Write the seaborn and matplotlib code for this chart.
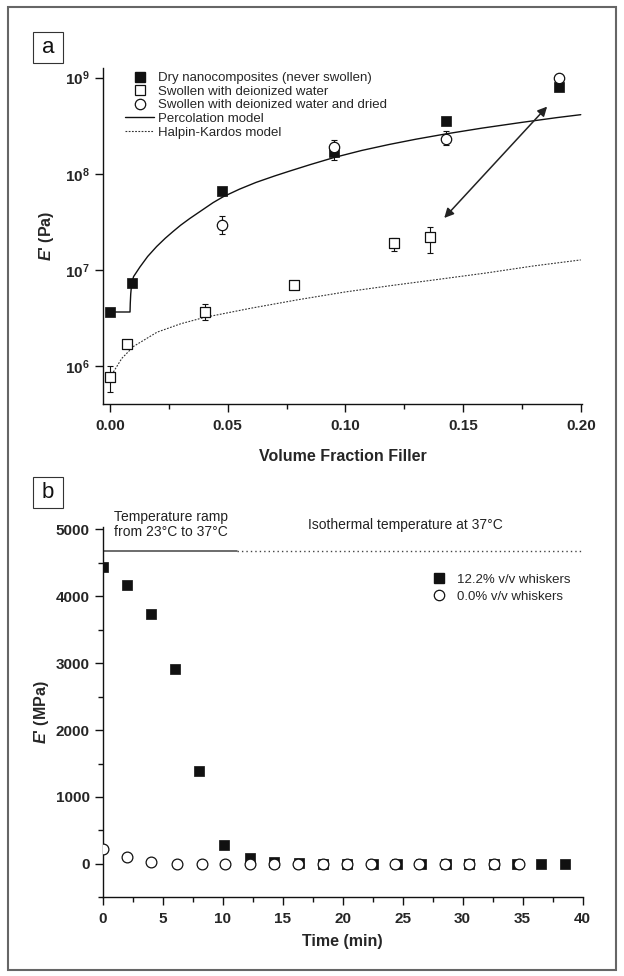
import numpy as np
import pandas as pd
import matplotlib
matplotlib.use("Agg")
import matplotlib.pyplot as plt
import seaborn as sns
from matplotlib.lines import Line2D
from matplotlib.patches import Rectangle
from matplotlib.ticker import MultipleLocator, FixedLocator, NullLocator

# panel a : E' vs volume fraction (log scale)
dry_x = [0.0, 0.0093, 0.0477, 0.0953, 0.1427, 0.1907]
dry_y = [3.65e6, 7.25e6, 6.55e7, 1.7e8, 3.5e8, 8.0e8]

swollen_x = [0.0, 0.0073, 0.0403, 0.078, 0.1205, 0.1359]
swollen_y = [7.7e5, 1.7e6, 3.68e6, 6.9e6, 1.9e7, 2.2e7]
swollen_lo = [5.4e5, 1.6e6, 3.0e6, 6.9e6, 1.58e7, 1.5e7]
swollen_hi = [1.0e6, 1.8e6, 4.4e6, 6.9e6, 2.14e7, 2.8e7]

dried_x = [0.0477, 0.0953, 0.1427, 0.1907]
dried_y = [2.94e7, 1.92e8, 2.32e8, 1.0e9]
dried_lo = [2.36e7, 1.4e8, 2.0e8, 9.0e8]
dried_hi = [3.6e7, 2.22e8, 2.76e8, 1.1e9]

# model curves (log10 of E')
perc_x = [0.0, 0.0085, 0.0086, 0.0088, 0.0092, 0.010, 0.0127, 0.016, 0.0198, 0.0235,
          0.0268, 0.030, 0.0339, 0.039, 0.0438, 0.048, 0.055, 0.062, 0.070, 0.0763,
          0.085, 0.0953, 0.107, 0.1186, 0.130, 0.1427, 0.158, 0.175, 0.190, 0.200]
perc_logy = [6.562, 6.562, 6.65, 6.75, 6.86, 6.93, 7.03, 7.14, 7.243, 7.33,
             7.40, 7.465, 7.535, 7.62, 7.70, 7.76, 7.84, 7.91, 7.978, 8.028,
             8.095, 8.17, 8.243, 8.305, 8.36, 8.415, 8.475, 8.535, 8.585, 8.615]

hk_x = [0.0007, 0.005, 0.01, 0.02, 0.03, 0.04, 0.06, 0.08, 0.10, 0.12, 0.14, 0.16, 0.18, 0.20]
hk_y = [8.1e5, 1.2e6, 1.6e6, 2.25e6, 2.75e6, 3.2e6, 4.0e6, 4.9e6, 5.9e6, 6.9e6,
        8.0e6, 9.3e6, 1.1e7, 1.27e7]

arrow_start = (0.142, 3.47e7)
arrow_end = (0.1857, 5.0e8)

# panel b : E' vs time
filled_t = [0.05, 2.0, 4.0, 6.0, 8.0, 10.1, 12.25, 14.25, 16.4, 18.4, 20.4, 22.5, 24.5,
            26.5, 28.6, 30.5, 32.6, 34.5, 36.5, 38.5]
filled_E = [4440, 4175, 3735, 2920, 1383, 285, 90, 35, 10, 5, 5, 3, 3, 2, 2, 2, 2, 2, 2, 2]
open_t = [0.0, 2.0, 4.0, 6.2, 8.3, 10.2, 12.3, 14.3, 16.3, 18.4, 20.4, 22.4, 24.4,
          26.4, 28.5, 30.5, 32.6, 34.7]
open_E = [220, 100, 25, 5, 2, 2, 1, 1, 1, 1, 1, 1, 1, 1, 1, 1, 1, 1]

ramp_end = 11.2
ramp_level = 4680

sns.set_theme(style="ticks")
plt.rcParams["font.family"] = ["Liberation Sans", "DejaVu Sans"]
plt.rcParams["mathtext.fontset"] = "custom"
plt.rcParams["mathtext.rm"] = "Liberation Sans"
plt.rcParams["mathtext.it"] = "Liberation Sans:italic"
plt.rcParams["mathtext.bf"] = "Liberation Sans:bold"
plt.rcParams["mathtext.bfit"] = "Liberation Sans:italic:bold"

fig = plt.figure(figsize=(6.24, 9.76), dpi=100)
ax1 = fig.add_axes([0.165, 0.5858, 0.7676, 0.3445])
ax2 = fig.add_axes([0.1646, 0.0806, 0.769, 0.3790])

# ---- panel a
perc_y = 10 ** np.array(perc_logy)
sns.lineplot(x=perc_x, y=perc_y, ax=ax1, color="#111111", lw=1.0, sort=False, estimator=None)
sns.lineplot(x=hk_x, y=hk_y, ax=ax1, color="#333333", lw=0.8, sort=False, estimator=None,
             linestyle=(0, (1.6, 1.3)))

sy = np.array(swollen_y)
ax1.errorbar(swollen_x, sy, yerr=[sy - np.array(swollen_lo), np.array(swollen_hi) - sy],
             fmt="none", ecolor="#111111", elinewidth=0.8, capsize=2.5, capthick=0.8, zorder=2)
dy = np.array(dried_y)
ax1.errorbar(dried_x, dy, yerr=[dy - np.array(dried_lo), np.array(dried_hi) - dy],
             fmt="none", ecolor="#111111", elinewidth=0.8, capsize=2.5, capthick=0.8, zorder=2)

sns.scatterplot(x=dry_x, y=dry_y, ax=ax1, marker="s", s=52, color="#111111",
                edgecolor="#111111", linewidth=0.5, zorder=3)
sns.scatterplot(x=swollen_x, y=swollen_y, ax=ax1, marker="s", s=45, facecolor="white",
                edgecolor="#111111", linewidth=0.9, zorder=4)
sns.scatterplot(x=dried_x, y=dried_y, ax=ax1, marker="o", s=56, facecolor="white",
                edgecolor="#111111", linewidth=0.9, zorder=5)

ax1.annotate("", xy=arrow_end, xytext=arrow_start,
             arrowprops=dict(arrowstyle="<|-|>", color="#222222", lw=1.1,
                             mutation_scale=14, shrinkA=0, shrinkB=0))

ax1.set_yscale("log")
ax1.set_xlim(-0.003, 0.2005)
ax1.set_ylim(4.0e5, 1.26e9)
ax1.xaxis.set_minor_locator(MultipleLocator(0.025))
ax1.set_xticks([0.0, 0.05, 0.10, 0.15, 0.20])
ax1.set_xticklabels(["0.00", "0.05", "0.10", "0.15", "0.20"])
ax1.yaxis.set_major_locator(FixedLocator([1e6, 1e7, 1e8, 1e9]))
ax1.yaxis.set_minor_locator(NullLocator())
ax1.set_yticklabels([r"$\mathbf{10^{6}}$", r"$\mathbf{10^{7}}$",
                     r"$\mathbf{10^{8}}$", r"$\mathbf{10^{9}}$"])

ax1.set_xlabel("Volume Fraction Filler", fontsize=11.5, fontweight="bold")
ax1.set_ylabel(r"$\mathbfit{E}$' (Pa)", fontsize=11.5, fontweight="bold")
ax1.xaxis.set_label_coords(0.5, -0.133)
ax1.yaxis.set_label_coords(-0.098, 0.5)

handles_a = [
    Line2D([], [], ls="none", marker="s", ms=7, mfc="#111111", mec="#111111"),
    Line2D([], [], ls="none", marker="s", ms=6.5, mfc="white", mec="#111111", mew=0.9),
    Line2D([], [], ls="none", marker="o", ms=7.5, mfc="white", mec="#111111", mew=0.9),
    Line2D([], [], color="#111111", lw=1.0),
    Line2D([], [], color="#333333", lw=0.8, ls=(0, (1.6, 1.3))),
]
labels_a = ["Dry nanocomposites (never swollen)", "Swollen with deionized water",
            "Swollen with deionized water and dried", "Percolation model",
            "Halpin-Kardos model"]
ax1.legend(handles_a, labels_a, loc="upper left", bbox_to_anchor=(0.046, 0.988),
           frameon=False, fontsize=9.5, handlelength=2.2, handletextpad=0.3,
           labelspacing=0.1, borderpad=0, borderaxespad=0)

# ---- panel b
ax2.plot([0, ramp_end], [ramp_level, ramp_level], color="#444444", lw=1.1)
ax2.plot([ramp_end, 40], [ramp_level, ramp_level], color="#444444", lw=1.0,
         linestyle=(0, (1, 2.2)))

sns.scatterplot(x=filled_t, y=filled_E, ax=ax2, marker="s", s=52, color="#111111",
                edgecolor="#111111", linewidth=0.5, zorder=3)
sns.scatterplot(x=open_t, y=open_E, ax=ax2, marker="o", s=60, facecolor="white",
                edgecolor="#111111", linewidth=0.9, zorder=4)

ax2.text(0.94, 5071, "Temperature ramp\nfrom 23\u00b0C to 37\u00b0C", fontsize=10,
         ha="left", va="center", linespacing=1.1, clip_on=False, color="#222222")
ax2.text(17.1, 5064, "Isothermal temperature at 37\u00b0C", fontsize=10,
         ha="left", va="center", clip_on=False, color="#222222")

ax2.set_xlim(0, 40)
ax2.set_ylim(-500, 5030)
ax2.xaxis.set_major_locator(MultipleLocator(5))
ax2.xaxis.set_minor_locator(MultipleLocator(2.5))
ax2.yaxis.set_major_locator(MultipleLocator(1000))
ax2.yaxis.set_minor_locator(MultipleLocator(500))

ax2.set_xlabel("Time (min)", fontsize=11.5, fontweight="bold")
ax2.set_ylabel(r"$\mathbfit{E}$' (MPa)", fontsize=11.5, fontweight="bold")
ax2.xaxis.set_label_coords(0.5, -0.0997)
ax2.yaxis.set_label_coords(-0.108, 0.5)

handles_b = [
    Line2D([], [], ls="none", marker="s", ms=7, mfc="#111111", mec="#111111"),
    Line2D([], [], ls="none", marker="o", ms=7.5, mfc="white", mec="#111111", mew=0.9),
]
labels_b = ["12.2% v/v whiskers", "0.0% v/v whiskers"]
ax2.legend(handles_b, labels_b, loc="upper left", bbox_to_anchor=(0.684, 0.875),
           frameon=False, fontsize=9.5, handlelength=1.2, handletextpad=0.8,
           labelspacing=0.36, borderpad=0, borderaxespad=0)

# shared axis styling
for ax in (ax1, ax2):
    sns.despine(ax=ax)
    for side in ("left", "bottom"):
        ax.spines[side].set_linewidth(1.0)
        ax.spines[side].set_color("#111111")
    ax.tick_params(which="major", direction="out", length=5.5, width=1.0,
                   color="#111111", labelsize=11, pad=4)
    ax.tick_params(which="minor", direction="out", length=3.5, width=1.0, color="#111111")
    ax.tick_params(axis="x", which="major", pad=5)
    for lab in ax.get_xticklabels() + ax.get_yticklabels():
        lab.set_fontweight("bold")
    ax.set_facecolor("white")

# panel letters and outer frame
for (x0, y0, x1, y1), letter in [((33, 32, 63, 63), "a"), ((33, 477, 63, 508), "b")]:
    fig.add_artist(Rectangle((x0 / 624, 1 - y1 / 976), (x1 - x0) / 624, (y1 - y0) / 976,
                             transform=fig.transFigure, fill=False, ec="#333333", lw=0.8))
    fig.text((x0 + x1) / 2 / 624, 1 - (y0 + y1) / 2 / 976, letter, fontsize=16,
             ha="center", va="center", color="#111111")

fig.add_artist(Rectangle((8 / 624, 1 - 970 / 976), 608 / 624, 963 / 976,
                         transform=fig.transFigure, fill=False, ec="#666666", lw=1.5))

fig.savefig("out.png", dpi=100, facecolor="white")
